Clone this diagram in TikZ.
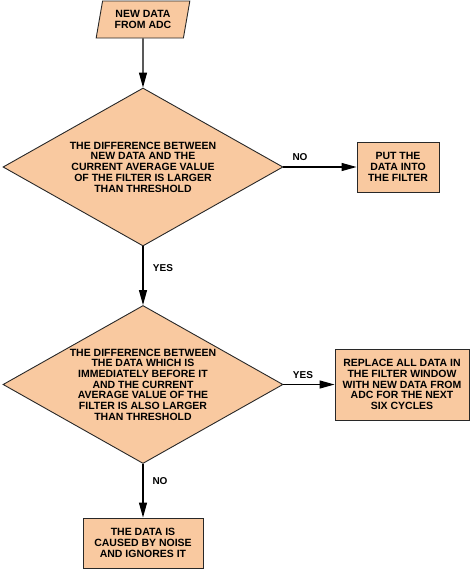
\documentclass[tikz,border=0pt]{standalone}
\usepackage{fontspec}
\setmainfont{Liberation Sans}
\usepackage{tikz}
\usetikzlibrary{shapes.geometric, arrows.meta}
\definecolor{peach}{RGB}{249,201,160}
\definecolor{edge}{RGB}{40,40,40}
\tikzset{
  block/.style={draw=edge, fill=peach, line width=0.9pt, align=center, inner sep=0pt,
    font=\fontsize{10.5}{10.7}\selectfont\bfseries},
  datain/.style={block, trapezium, trapezium left angle=76, trapezium right angle=104,
    trapezium stretches=true},
  decide/.style={block, diamond, aspect=1.77, minimum width=280pt, minimum height=158pt},
  arr/.style={-{Triangle[length=15pt, width=8pt]}, line width=1.2pt},
  lbl/.style={font=\fontsize{10}{10}\selectfont\bfseries, inner sep=0pt}
}
\begin{document}
\begin{tikzpicture}[x=1pt, y=-1pt]
      \useasboundingbox (0,0) rectangle (470,571);
      \node[datain, minimum width=94pt, minimum height=37pt] (adc) at (143,19.5) {NEW DATA\\FROM ADC};
      \node[decide] (D1) at (143,167) {THE DIFFERENCE BETWEEN\\NEW DATA AND THE\\CURRENT AVERAGE VALUE\\OF THE FILTER IS LARGER\\THAN THRESHOLD};
      \node[block, minimum width=82pt, minimum height=50pt] (put) at (398,167) {PUT THE\\DATA INTO\\THE FILTER};
      \node[decide] (D2) at (143,384.5) {THE DIFFERENCE BETWEEN\\THE DATA WHICH IS\\IMMEDIATELY BEFORE IT\\AND THE CURRENT\\AVERAGE VALUE OF THE\\FILTER IS ALSO LARGER\\THAN THRESHOLD};
      \node[block, minimum width=134pt, minimum height=71pt] (repl) at (402,384.5) {REPLACE ALL DATA IN\\THE FILTER WINDOW\\WITH NEW DATA FROM\\ADC FOR THE NEXT\\SIX CYCLES};
      \node[block, minimum width=120pt, minimum height=50pt] (noise) at (143,543) {THE DATA IS\\CAUSED BY NOISE\\AND IGNORES IT};
      \draw [arr] (adc) -- (D1);
      \draw [arr] (D1) -- (put);
      \draw [arr] (D1) -- (D2);
      \draw [arr] (D2) -- (repl);
      \draw [arr] (D2) -- (noise);
      \node[lbl] (no1) at (300,157) {NO};
      \node[lbl] (yes1) at (163,268) {YES};
      \node[lbl] (yes2) at (303,375) {YES};
      \node[lbl] (no2) at (160,481.5) {NO};
    \end{tikzpicture}
\end{document}
